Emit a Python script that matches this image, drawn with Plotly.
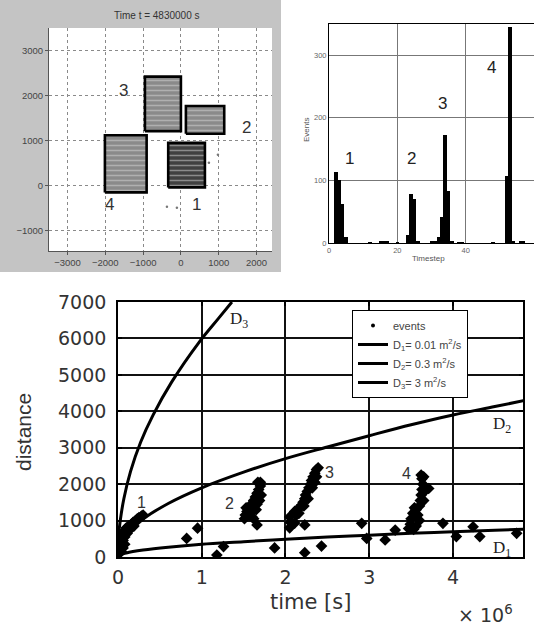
import plotly.graph_objects as go

W, H = 534, 625

# ---------------- Panel A: cluster map at t = 4830000 s ----------------
BOX_NAMES = ["1", "2", "3", "4"]
BOX_X0 = [-336, 132, -952, -2011]
BOX_X1 = [635, 1146, 0, -907]
BOX_Y0 = [-38, 1155, 1214, -150]
BOX_Y1 = [954, 1773, 2429, 1124]
BOX_LABEL_X = [423, 1746, -1508, -1878]
BOX_LABEL_Y = [-430, 1290, 2130, -430]
STRAY_X = [-370, -106, 741, 979]
STRAY_Y = [-470, -490, 510, 690]
MAP_XTICKS = [-3000, -2000, -1000, 0, 1000, 2000]
MAP_YTICKS = [-1000, 0, 1000, 2000, 3000]
MAP_TITLE = "Time t = 4830000 s"

# ---------------- Panel B: events per timestep ----------------
STEP = [2, 3, 4, 5, 12, 15, 16, 17, 20, 23, 24, 25, 26, 30, 31, 32, 33, 34, 35, 36,
        38, 39, 48, 52, 53, 54, 56, 57]
EVENTS = [113, 100, 62, 10, 1, 3, 2, 2, 1, 12, 78, 70, 3, 2, 2, 10, 42, 173, 83, 2,
          1, 1, 1, 107, 345, 3, 2, 3]
HIST_XTICKS = [0, 20, 40, 60]
HIST_YTICKS = [0, 100, 200, 300]
HIST_LABELS = ["1", "2", "3", "4"]
HIST_LABEL_X = [5.9, 24.2, 33.3, 47.5]
HIST_LABEL_Y = [135, 135, 223, 281]

# ---------------- Panel C: distance vs time (time in units of 1e6 s) ----------------
EVENT_T = [
    # cluster 1
    0.01, 0.02, 0.02, 0.03, 0.04, 0.05, 0.06, 0.07, 0.08, 0.10, 0.11, 0.13, 0.14, 0.16,
    0.18, 0.19, 0.21, 0.23, 0.25, 0.28, 0.30, 0.04, 0.06, 0.08, 0.01, 0.02,
    # scattered
    0.82, 0.95, 1.18, 1.26,
    # cluster 2
    1.51, 1.52, 1.54, 1.53, 1.56, 1.58, 1.60, 1.62, 1.57, 1.60, 1.63, 1.62, 1.64, 1.66,
    1.68, 1.70, 1.67, 1.70, 1.71, 1.69, 1.66, 1.65, 1.66, 1.87,
    # around t = 2.1
    2.05, 2.06, 2.05, 2.11, 2.23, 2.23, 2.43,
    # cluster 3
    2.11, 2.14, 2.17, 2.19, 2.21, 2.23, 2.24, 2.26, 2.28, 2.30, 2.31, 2.33, 2.35, 2.37,
    2.39, 2.37, 2.35, 2.32, 2.27, 2.22, 2.16, 2.13,
    # scattered
    2.91, 2.97, 3.19, 3.31,
    # cluster 4
    3.47, 3.49, 3.50, 3.52, 3.54, 3.56, 3.58, 3.60, 3.56, 3.53, 3.60, 3.61, 3.62, 3.63,
    3.64, 3.63, 3.62, 3.65, 3.66, 3.65, 3.71,
    # late scattered
    3.88, 4.04, 4.24, 4.32, 4.76,
]
EVENT_D = [
    100, 200, 350, 500, 300, 650, 450, 700, 550, 800, 650, 850, 750, 900,
    950, 850, 1000, 1050, 1080, 1120, 1150, 150, 250, 350, 250, 600,
    510, 790, 55, 285,
    1050, 1150, 1250, 1350, 1300, 1200, 1100, 1050, 1400, 1450, 1400, 1550, 1650, 1750,
    1850, 1950, 2050, 2050, 1700, 1550, 1450, 1300, 880, 250,
    1100, 950, 800, 930, 880, 120, 300,
    1250, 1300, 1350, 1420, 1500, 1600, 1700, 1800, 1900, 2000, 2100, 2200, 2300, 2400,
    2450, 2200, 2050, 1900, 1600, 1400, 1200, 1150,
    925, 510, 470, 740,
    780, 900, 1050, 1200, 1350, 1300, 1150, 1000, 850, 760, 1400, 1550, 1700, 1850,
    2000, 2150, 2250, 2200, 1800, 1550, 1880,
    925, 560, 830, 560, 650,
]
D1_T = [0, 0.02, 0.1, 0.3, 0.6, 1.0, 1.5, 2.0, 2.5, 3.0, 3.5, 4.0, 4.5, 4.84]
D1_D = [0, 50, 110, 190, 270, 350, 420, 490, 550, 600, 650, 690, 735, 760]
D2_T = [0, 0.01, 0.05, 0.1, 0.3, 0.6, 1.0, 1.5, 2.0, 2.5, 3.0, 3.5, 4.0, 4.5, 4.84]
D2_D = [0, 190, 420, 600, 1040, 1470, 1900, 2330, 2700, 3020, 3330, 3630, 3900, 4130, 4290]
D3_T = [0, 0.01, 0.03, 0.07, 0.15, 0.27, 0.42, 0.64, 0.97, 1.20, 1.36]
D3_D = [0, 650, 1050, 1600, 2350, 3150, 3900, 4800, 5900, 6550, 7000]
SERIES_NAMES = ["events", "D<sub>1</sub>= 0.01 m<sup>2</sup>/s",
                "D<sub>2</sub>= 0.3 m<sup>2</sup>/s", "D<sub>3</sub>= 3 m<sup>2</sup>/s"]
CLUSTER_LABELS = ["1", "2", "3", "4"]
CLUSTER_LABEL_T = [0.28, 1.33, 2.52, 3.44]
CLUSTER_LABEL_D = [1500, 1480, 2330, 2300]
CURVE_LABELS = ["D<sub>1</sub>", "D<sub>2</sub>", "D<sub>3</sub>"]
CURVE_LABEL_T = [4.58, 4.58, 1.44]
CURVE_LABEL_D = [220, 3630, 6510]
TIME_TICKS = [0, 1, 2, 3, 4]
DIST_TICKS = [0, 1000, 2000, 3000, 4000, 5000, 6000, 7000]


def fx(p):
    return p / W


def fy(p):
    return 1 - p / H


fig = go.Figure()

# ---- Panel A traces ----
box_fill = ["#404040", "#8a8a8a", "#8a8a8a", "#8a8a8a"]
for i in range(len(BOX_NAMES)):
    x0, x1, y0, y1 = BOX_X0[i], BOX_X1[i], BOX_Y0[i], BOX_Y1[i]
    fig.add_trace(go.Scatter(
        x=[x0, x1, x1, x0, x0], y=[y0, y0, y1, y1, y0],
        mode="lines", fill="toself", fillcolor=box_fill[i],
        fillpattern=dict(shape="-", fgcolor="#d6d6d6", bgcolor=box_fill[i], size=5, solidity=0.3),
        line=dict(color="black", width=2.6),
        xaxis="x", yaxis="y", showlegend=False, hoverinfo="skip"))
fig.add_trace(go.Scatter(x=STRAY_X, y=STRAY_Y, mode="markers",
                         marker=dict(size=2.5, color="#777"), xaxis="x", yaxis="y",
                         showlegend=False, hoverinfo="skip"))

# ---- Panel B traces ----
fig.add_trace(go.Bar(x=STEP, y=EVENTS, width=1.0, marker=dict(color="black", line=dict(width=0)),
                     xaxis="x2", yaxis="y2", showlegend=False))

# ---- Panel C traces ----
fig.add_trace(go.Scatter(x=EVENT_T, y=EVENT_D, mode="markers",
                         marker=dict(symbol="diamond", size=9, color="black"),
                         xaxis="x3", yaxis="y3", showlegend=False))
fig.add_trace(go.Scatter(x=[None], y=[None], mode="markers", name=SERIES_NAMES[0],
                         marker=dict(symbol="circle", size=4, color="black"),
                         xaxis="x3", yaxis="y3"))
for name, tt, dd in [(SERIES_NAMES[1], D1_T, D1_D), (SERIES_NAMES[2], D2_T, D2_D),
                     (SERIES_NAMES[3], D3_T, D3_D)]:
    fig.add_trace(go.Scatter(x=tt, y=dd, mode="lines", name=name,
                             line=dict(color="black", width=3, shape="spline", smoothing=1.0),
                             xaxis="x3", yaxis="y3"))


def ann(text, x, y, xref, yref, font, angle=0):
    return dict(text=text, x=x, y=y, xref=xref, yref=yref, showarrow=False,
                xanchor="center", yanchor="middle", textangle=angle, font=font)


annotations = []
# Panel A annotations
annotations.append(ann(MAP_TITLE, fx(157), fy(16), "paper", "paper",
                       dict(family="Liberation Sans", size=10, color="#333")))
for lab, x, y in zip(BOX_NAMES, BOX_LABEL_X, BOX_LABEL_Y):
    annotations.append(ann(lab, x, y, "x", "y", dict(family="Liberation Sans", size=17, color="#333")))
# Panel B annotations
for lab, x, y in zip(HIST_LABELS, HIST_LABEL_X, HIST_LABEL_Y):
    annotations.append(ann(lab, x, y, "x2", "y2", dict(family="Liberation Sans", size=17, color="#222")))
annotations.append(ann("Timestep", fx(428), fy(258), "paper", "paper",
                       dict(family="Liberation Sans", size=8, color="#555")))
annotations.append(ann("Events", fx(307), fy(130), "paper", "paper",
                       dict(family="Liberation Sans", size=8, color="#555"), angle=-90))
# Panel C annotations
for lab, x, y in zip(CLUSTER_LABELS, CLUSTER_LABEL_T, CLUSTER_LABEL_D):
    annotations.append(ann(lab, x, y, "x3", "y3", dict(family="Liberation Sans", size=16, color="#333")))
for lab, x, y in zip(CURVE_LABELS, CURVE_LABEL_T, CURVE_LABEL_D):
    annotations.append(ann(lab, x, y, "x3", "y3", dict(family="Liberation Serif", size=17, color="#222")))
annotations.append(ann("distance", fx(23), fy(432), "paper", "paper",
                       dict(family="Liberation Sans", size=21, color="#333"), angle=-90))
annotations.append(ann("time [s]", fx(310), fy(602), "paper", "paper",
                       dict(family="DejaVu Sans", size=21, color="#333")))
annotations.append(ann("× 10<sup>6</sup>", fx(485), fy(614), "paper", "paper",
                       dict(family="DejaVu Sans", size=19, color="#333")))

shapes = [
    dict(type="rect", xref="paper", yref="paper", x0=0, x1=fx(281), y0=fy(272), y1=1,
         fillcolor="#c4c4c4", line=dict(width=0), layer="below"),
    dict(type="rect", xref="x domain", yref="y domain", x0=0, x1=1, y0=0, y1=1,
         fillcolor="white", line=dict(width=0), layer="below"),
]

small_font = dict(family="Liberation Sans", size=9.5, color="#444")
fig.update_layout(
    width=W, height=H, margin=dict(l=0, r=0, t=0, b=0, autoexpand=False),
    paper_bgcolor="white", plot_bgcolor="white",
    bargap=0,
    xaxis=dict(domain=[fx(49), fx(272)], range=[-3490, 2410], tickvals=MAP_XTICKS,
               showgrid=True, gridcolor="#8a8a8a", griddash="dot", gridwidth=1,
               zeroline=False, showline=True, linecolor="#555", linewidth=1,
               ticks="outside", ticklen=3, tickcolor="#555", tickfont=small_font,
               anchor="y", automargin=False),
    yaxis=dict(domain=[fy(251), fy(28)], range=[-1455, 3512], tickvals=MAP_YTICKS,
               showgrid=True, gridcolor="#8a8a8a", griddash="dot", gridwidth=1,
               zeroline=False, showline=True, linecolor="#555", linewidth=1,
               ticks="outside", ticklen=3, tickcolor="#555", tickfont=small_font,
               anchor="x", automargin=False),
    xaxis2=dict(domain=[fx(329), 1.0], range=[0, 60], tickvals=HIST_XTICKS,
                showgrid=True, gridcolor="#777", gridwidth=1, zeroline=False,
                showline=True, linecolor="black", linewidth=1, mirror=True,
                ticks="", tickfont=dict(family="Liberation Sans", size=7.5, color="#666"),
                anchor="y2", automargin=False),
    yaxis2=dict(domain=[fy(243), fy(24)], range=[0, 350], tickvals=HIST_YTICKS,
                showgrid=True, gridcolor="#777", gridwidth=1, zeroline=False,
                showline=True, linecolor="black", linewidth=1, mirror=True,
                ticks="", tickfont=dict(family="Liberation Sans", size=7.5, color="#666"),
                anchor="x2", automargin=False),
    xaxis3=dict(domain=[fx(118), fx(523)], range=[0, 4.836], tickvals=TIME_TICKS,
                showgrid=True, gridcolor="#111", gridwidth=1.6, zeroline=False,
                showline=True, linecolor="black", linewidth=1.6, mirror="ticks",
                ticks="inside", ticklen=4, tickcolor="black", tickwidth=1.5,
                ticklabelstandoff=2,
                tickfont=dict(family="DejaVu Sans", size=19, color="#333"),
                anchor="y3", automargin=False),
    yaxis3=dict(domain=[fy(557), fy(302)], range=[0, 7000], tickvals=DIST_TICKS,
                showgrid=True, gridcolor="#111", gridwidth=1.6, zeroline=False,
                showline=True, linecolor="black", linewidth=1.6, mirror="ticks",
                ticks="inside", ticklen=4, tickcolor="black", tickwidth=1.5,
                ticklabelstandoff=6,
                tickfont=dict(family="DejaVu Sans", size=19, color="#333"),
                anchor="x3", automargin=False),
    showlegend=True,
    legend=dict(x=fx(352), y=fy(310), xanchor="left", yanchor="top",
                bgcolor="white", bordercolor="black", borderwidth=1,
                font=dict(family="Liberation Sans", size=11, color="#444"),
                itemwidth=30, tracegroupgap=0),
    annotations=annotations, shapes=shapes,
)

fig.write_html("out.html", config={"displayModeBar": False},
               post_script="document.body.style.margin='0px';document.body.style.overflow='hidden';")
